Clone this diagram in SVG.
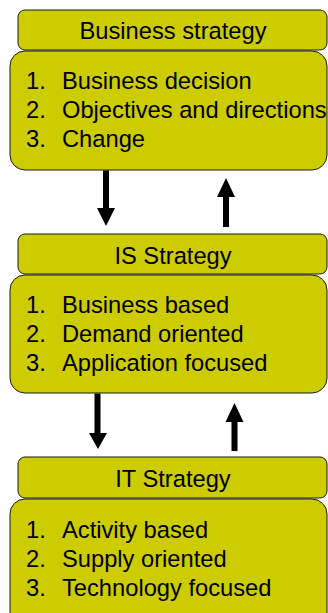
<svg xmlns="http://www.w3.org/2000/svg" width="328" height="613" viewBox="0 0 328 613">
  <style>
    .hdr { fill: #CCCC00; stroke: #1a1a1a; stroke-width: 1; }
    .body { fill: #CCCC00; stroke: #1a1a1a; stroke-width: 1; }
    .title { font-family: "Liberation Sans", Arial, sans-serif; font-size: 23.7px; fill: #000; text-anchor: middle; }
    .item { font-family: "Liberation Sans", Arial, sans-serif; font-size: 23.7px; fill: #000; }
    .arrow { fill: #000; }
  </style>
  <rect width="328" height="613" fill="#ffffff"/>

  <g id="business-strategy">
    <rect class="body" x="10" y="51" width="317" height="119" rx="15" ry="15"/>
    <rect class="hdr" x="18" y="10" width="309" height="40" rx="7" ry="7"/>
    <text class="title" x="173" y="39">Business strategy</text>
    <text class="item" x="26" y="89">1.</text>
    <text class="item" x="62" y="89">Business decision</text>
    <text class="item" x="26" y="118">2.</text>
    <text class="item" x="62" y="118">Objectives and directions</text>
    <text class="item" x="26" y="147">3.</text>
    <text class="item" x="62" y="147">Change</text>
  </g>

  <g id="is-strategy">
    <rect class="body" x="10" y="275" width="317" height="118" rx="15" ry="15"/>
    <rect class="hdr" x="18" y="234" width="309" height="40" rx="7" ry="7"/>
    <text class="title" x="173" y="264">IS Strategy</text>
    <text class="item" x="26" y="313">1.</text>
    <text class="item" x="62" y="313">Business based</text>
    <text class="item" x="26" y="342">2.</text>
    <text class="item" x="62" y="342">Demand oriented</text>
    <text class="item" x="26" y="371">3.</text>
    <text class="item" x="62" y="371">Application focused</text>
  </g>

  <g id="it-strategy">
    <rect class="body" x="10" y="499" width="317" height="130" rx="15" ry="15"/>
    <rect class="hdr" x="18" y="457" width="309" height="41" rx="7" ry="7"/>
    <text class="title" x="173" y="487">IT Strategy</text>
    <text class="item" x="26" y="538">1.</text>
    <text class="item" x="62" y="538">Activity based</text>
    <text class="item" x="26" y="567">2.</text>
    <text class="item" x="62" y="567">Supply oriented</text>
    <text class="item" x="26" y="596">3.</text>
    <text class="item" x="62" y="596">Technology focused</text>
  </g>

  <g id="connectors">
    <path class="arrow" d="M103,170.5 H109 V208 H115 L106,226 L97,208 H103 Z"/>
    <path class="arrow" d="M223,227 H229 V197 H235 L226,178 L217,197 H223 Z"/>
    <path class="arrow" d="M94.5,393.5 H100.5 V433 H107 L98,449 L89,433 H94.5 Z"/>
    <path class="arrow" d="M231.5,451 H237.5 V422 H243.5 L234.5,403 L225.5,422 H231.5 Z"/>
  </g>
</svg>
